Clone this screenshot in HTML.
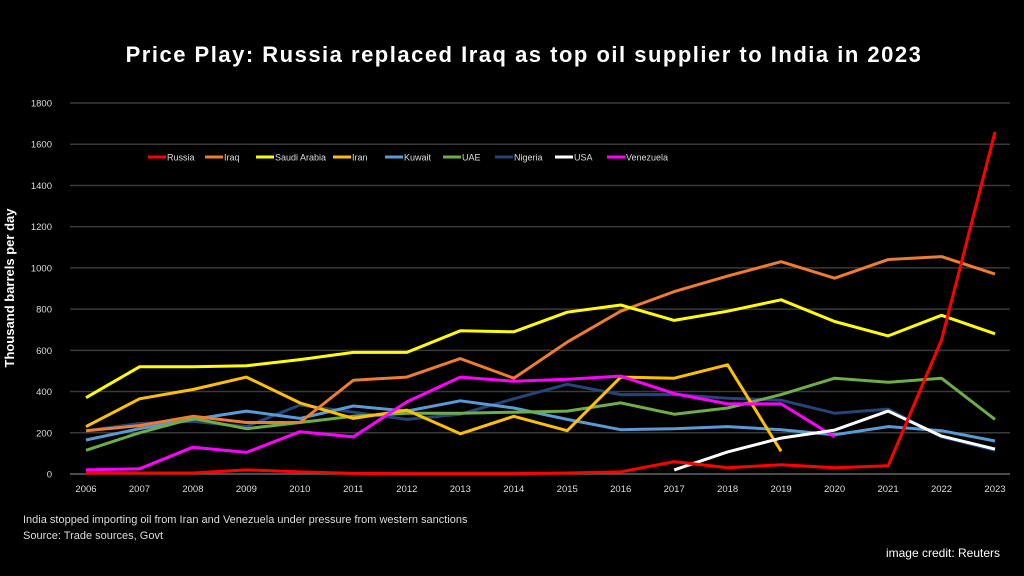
<!DOCTYPE html>
<html><head><meta charset="utf-8"><style>
body{margin:0;background:#000;width:1024px;height:576px;overflow:hidden;font-family:"Liberation Sans",sans-serif;}
</style></head><body>
<svg id="c" width="1024" height="576" style="position:absolute;left:0;top:0">
<rect width="1024" height="576" fill="#000"/>
<text x="524" y="62" text-anchor="middle" fill="#fff" font-size="22" letter-spacing="1.5" font-weight="bold">Price Play: Russia replaced Iraq as top oil supplier to India in 2023</text>
<text transform="translate(14,288) rotate(-90)" text-anchor="middle" fill="#fff" font-size="13" font-weight="bold">Thousand barrels per day</text>
<text x="23" y="523" fill="#ddd" font-size="11">India stopped  importing oil  from Iran and Venezuela under pressure from western sanctions</text>
<text x="23" y="539" fill="#ddd" font-size="11">Source: Trade sources, Govt</text>
<text x="1000" y="557" text-anchor="end" fill="#fff" font-size="12">image credit: Reuters</text>
<g id="grid"></g><g id="lines"></g><g id="legend"></g>
</svg>
<script>
const years=[2006,2007,2008,2009,2010,2011,2012,2013,2014,2015,2016,2017,2018,2019,2020,2021,2022,2023];
const yTicks=[0,200,400,600,800,1000,1200,1400,1600,1800];
const russia=[5,5,5,20,10,3,2,2,2,5,10,60,30,45,30,40,650,1660];
const iraq=[210,235,280,250,250,455,470,560,465,640,790,885,960,1030,950,1040,1055,970];
const saudi=[370,520,520,525,555,590,590,695,690,785,820,745,790,845,740,670,770,680];
const iran=[230,365,410,470,345,270,310,195,280,210,470,465,530,110];
const kuwait=[165,220,265,305,270,330,305,355,320,265,215,220,230,215,190,230,210,160];
const uae=[115,200,270,220,250,280,295,295,300,305,345,290,320,385,465,445,465,265];
const nigeria=[210,245,255,230,335,300,265,290,365,435,385,385,368,358,295,315,180,115];
const usa=[null,null,null,null,null,null,null,null,null,null,null,20,107,174,213,305,184,121];
const venezuela=[20,25,130,105,205,180,350,470,450,460,475,390,340,340,180];
const seriesNames=["Russia","Iraq","Saudi Arabia","Iran","Kuwait","UAE","Nigeria","USA","Venezuela"];
const seriesData=[russia,iraq,saudi,iran,kuwait,uae,nigeria,usa,venezuela];
const colors=["#ff0000","#ed7d31","#ffff00","#ffc000","#5b9bd5","#70ad47","#264478","#ffffff","#ff00ff"];
const legendX=[148,205,256,333,385,443,495,555,607];
const NS="http://www.w3.org/2000/svg";
const x0=86,x1=995,yb=474,yt=103;
const xs=i=>x0+(x1-x0)*i/(years.length-1);
const ys=v=>yb-(yb-yt)*v/1800;
const grid=document.getElementById('grid');
yTicks.forEach(t=>{
 const l=document.createElementNS(NS,'line');
 
 
 l.setAttribute('x1',70);l.setAttribute('x2',1010);l.setAttribute('y1',ys(t));l.setAttribute('y2',ys(t));
 l.setAttribute('stroke',t===0?'#666':'#3a3a3a');l.setAttribute('stroke-width',1.5);
 grid.appendChild(l);
 const tx=document.createElementNS(NS,'text');
 
 
 tx.setAttribute('x',52);tx.setAttribute('y',ys(t)+3.5);tx.setAttribute('text-anchor','end');
 tx.setAttribute('fill','#ddd');tx.setAttribute('font-size','9.5');tx.textContent=t;
 grid.appendChild(tx);
});
years.forEach((y,i)=>{
 const tx=document.createElementNS(NS,'text');
 
 
 tx.setAttribute('x',xs(i));tx.setAttribute('y',492);tx.setAttribute('text-anchor','middle');
 tx.setAttribute('fill','#ddd');tx.setAttribute('font-size','9.5');tx.textContent=y;
 grid.appendChild(tx);
});
const lines=document.getElementById('lines');
const order=[6,4,5,3,1,2,8,7,0];
order.forEach(k=>{
 const d=seriesData[k];let pts=[];
 d.forEach((v,i)=>{if(v!==null&&v!==undefined)pts.push(xs(i).toFixed(1)+','+ys(v).toFixed(1));});
 const p=document.createElementNS(NS,'polyline');
 
 
 p.setAttribute('points',pts.join(' '));p.setAttribute('fill','none');
 p.setAttribute('stroke',colors[k]);p.setAttribute('stroke-width',3);p.setAttribute('stroke-linejoin','round');
 lines.appendChild(p);
});
const lg=document.getElementById('legend');
seriesNames.forEach((n,k)=>{
 const g=document.createElementNS(NS,'g');
 
 
 const l=document.createElementNS(NS,'line');
 l.setAttribute('x1',legendX[k]);l.setAttribute('x2',legendX[k]+18);l.setAttribute('y1',157);l.setAttribute('y2',157);
 l.setAttribute('stroke',colors[k]);l.setAttribute('stroke-width',3);
 g.appendChild(l);
 const t=document.createElementNS(NS,'text');
 t.setAttribute('x',legendX[k]+19);t.setAttribute('y',160.5);t.setAttribute('fill','#ddd');t.setAttribute('font-size','9');
 t.textContent=n;g.appendChild(t);
 lg.appendChild(g);
});
</script>
</body></html>
